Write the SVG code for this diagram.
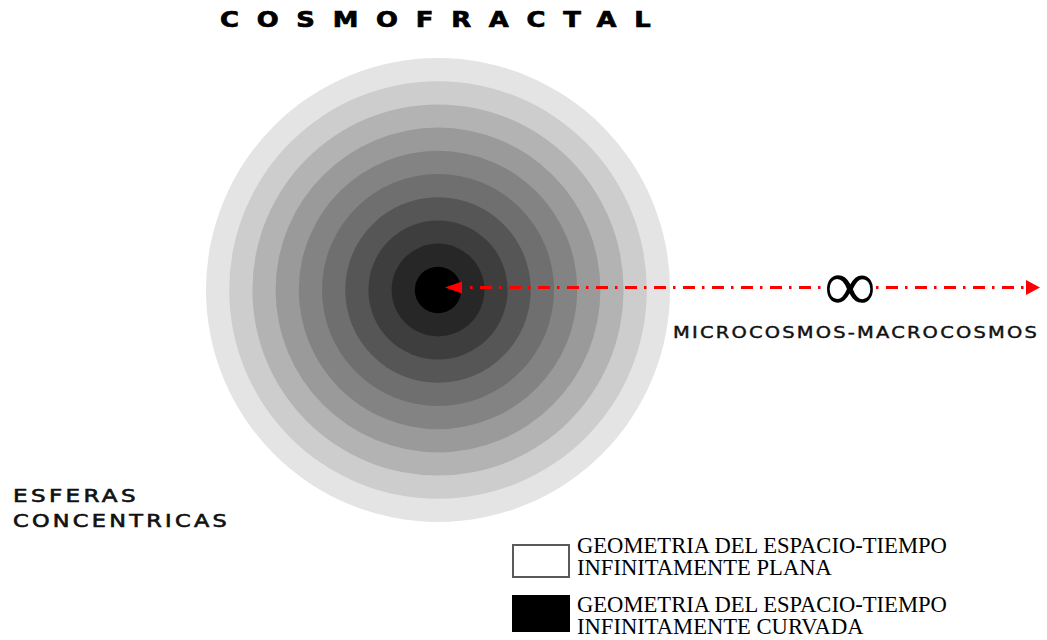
<svg xmlns="http://www.w3.org/2000/svg" width="1047" height="640" viewBox="0 0 1047 640">
<style>
.ttl{font-family:"DejaVu Sans",sans-serif;font-weight:bold;fill:#000;stroke:#000;stroke-width:0.7}
.lbl{font-family:"DejaVu Sans",sans-serif;fill:#111;stroke:#111}
.leg{font-family:"Liberation Serif","Times New Roman",serif;font-size:22.6px;fill:#000}
.dash{stroke:#ff0000;stroke-width:3;stroke-dasharray:2.5 7.5 12 7;fill:none}
.head{fill:#ff0000}
</style>
<rect width="1047" height="640" fill="#ffffff"/>
<text id="title" class="ttl" transform="translate(220,26.5) scale(1.2,1)" x="0" y="0" font-size="21.5" letter-spacing="14.8">COSMOFRACTAL</text>
<g id="spheres">
<circle cx="438" cy="290" r="232" fill="#e4e4e4"/>
<circle cx="438" cy="290" r="208.8" fill="#cdcdcd"/>
<circle cx="438" cy="290" r="185.6" fill="#b3b3b3"/>
<circle cx="438" cy="290" r="162.4" fill="#9a9a9a"/>
<circle cx="438" cy="290" r="139.2" fill="#838383"/>
<circle cx="438" cy="290" r="116" fill="#6f6f6f"/>
<circle cx="438" cy="290" r="92.8" fill="#565656"/>
<circle cx="438" cy="290" r="69.6" fill="#3e3e3e"/>
<circle cx="438" cy="290" r="46.4" fill="#272727"/>
<circle cx="438" cy="290" r="23.2" fill="#000000"/>
</g>
<g id="connectors">
<line class="dash" x1="470" y1="287.5" x2="1026" y2="287.5"/>
<polygon class="head" points="445,287.5 462,281.5 462,293.5"/>
<polygon class="head" points="1040,287.5 1026,280 1026,295"/>
<rect x="825" y="270" width="51" height="31" fill="#ffffff"/>
<text id="infinity" x="850" y="310" font-family="Liberation Serif,serif" font-size="72" text-anchor="middle" fill="#000">∞</text>
</g>
<text id="axis-label" class="lbl" x="673" y="337.5" font-size="15" stroke-width="0.4" letter-spacing="1.7" textLength="366" lengthAdjust="spacingAndGlyphs">MICROCOSMOS-MACROCOSMOS</text>
<g id="spheres-label">
<text class="lbl" x="13" y="501.5" font-size="17" stroke-width="0.6" letter-spacing="2.5" textLength="126" lengthAdjust="spacingAndGlyphs">ESFERAS</text>
<text class="lbl" x="13" y="527" font-size="17" stroke-width="0.6" letter-spacing="2.5" textLength="217" lengthAdjust="spacingAndGlyphs">CONCENTRICAS</text>
</g>
<g id="legend-flat">
<rect x="513" y="545" width="56" height="32" fill="#ffffff" stroke="#5a5a5a" stroke-width="2"/>
<text class="leg" x="577" y="552.5">GEOMETRIA DEL ESPACIO-TIEMPO</text>
<text class="leg" x="577" y="575">INFINITAMENTE PLANA</text>
</g>
<g id="legend-curved">
<rect x="512" y="595" width="58" height="37" fill="#000000"/>
<text class="leg" x="577" y="611.5">GEOMETRIA DEL ESPACIO-TIEMPO</text>
<text class="leg" x="577" y="634">INFINITAMENTE CURVADA</text>
</g>
</svg>
